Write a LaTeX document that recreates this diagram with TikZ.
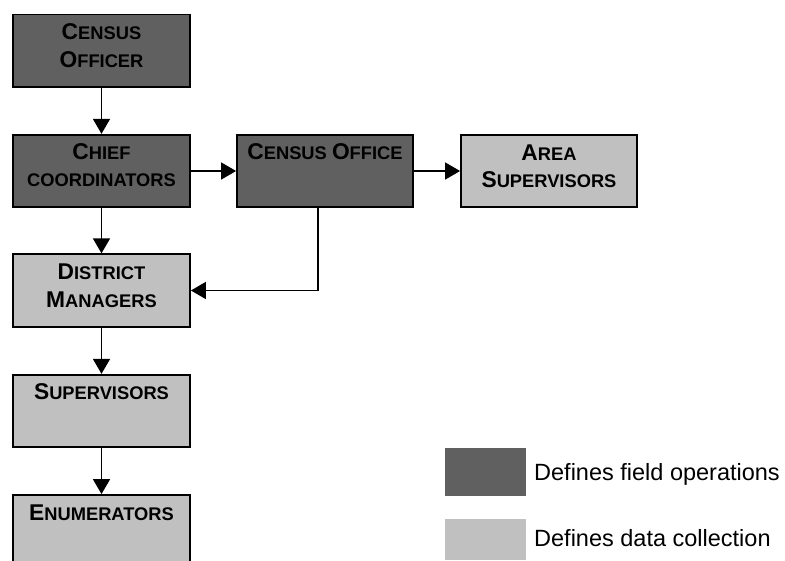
\documentclass[tikz,border=0pt]{standalone}
\usepackage{fontspec}
\setmainfont{Liberation Sans}
\usetikzlibrary{arrows.meta}
\definecolor{darkg}{HTML}{606060}
\definecolor{lightg}{HTML}{C0C0C0}
\newcommand\BigC[1]{{\fontsize{22.8}{27.5}\selectfont #1}}
\tikzset{
  boxbase/.style={draw=black, line width=1.8pt, minimum width=177pt, minimum height=72.5pt, inner sep=0pt},
  darkbox/.style={boxbase, fill=darkg},
  lightbox/.style={boxbase, fill=lightg},
  txt/.style={font=\fontsize{18.3}{27.5}\selectfont\bfseries, align=center, inner sep=0pt, anchor=base},
  arr/.style={line width=1.6pt, -{Triangle[length=15pt,width=17pt]}},
  legtxt/.style={font=\fontsize{23.5}{28}\selectfont, inner sep=0pt, anchor=base west},
}
\begin{document}
\begin{tikzpicture}[x=1pt,y=-1pt]
\useasboundingbox (0,0) rectangle (785,561);
\clip (0,0) rectangle (785,561);
% boxes
\node[darkbox] (off) at (101.5,50.75) {};
\node[darkbox] (chief) at (101.5,171) {};
\node[darkbox, minimum width=176pt] (cofc) at (325,171) {};
\node[lightbox, minimum width=176pt] (area) at (549,171) {};
\node[lightbox] (dm) at (101.5,290.5) {};
\node[lightbox] (sup) at (101.5,411) {};
\node[lightbox] (enum) at (101.5,531.25) {};
% texts (base anchor = last line)
\node[txt] (offt) at ([yshift=-53.8pt]off.north) {\BigC{C}ENSUS\\\BigC{O}FFICER};
\node[txt] (chieft) at ([yshift=-53pt]chief.north) {\BigC{C}HIEF\\COORDINATORS};
\node[txt] (cofct) at ([yshift=-26pt]cofc.north) {\BigC{C}ENSUS \BigC{O}FFICE};
\node[txt] (areat) at ([yshift=-54pt]area.north) {\BigC{A}REA\\\BigC{S}UPERVISORS};
\node[txt] (dmt) at ([yshift=-54pt]dm.north) {\BigC{D}ISTRICT\\\BigC{M}ANAGERS};
\node[txt] (supt) at ([yshift=-26pt]sup.north) {\BigC{S}UPERVISORS};
\node[txt] (enumt) at ([yshift=-26pt]enum.north) {\BigC{E}NUMERATORS};
% connectors
\draw[arr] (off) -- (chief);
\draw[arr] (chief) -- (cofc);
\draw[arr] (cofc) -- (area);
\draw[arr] (chief) -- (dm);
\draw[arr] (dm) -- (sup);
\draw[arr] (sup) -- (enum);
\draw[arr] ([xshift=-7pt]cofc.south) |- (dm.east);
% legend
\node[fill=darkg, minimum width=81pt, minimum height=48pt, inner sep=0pt] (lg1) at (485.5,472) {};
\node[fill=lightg, minimum width=81pt, minimum height=41pt, inner sep=0pt] (lg2) at (485.5,539.5) {};
\node[legtxt] (lt1) at (534,480) {Defines field operations};
\node[legtxt] (lt2) at (534,546) {Defines data collection};
\end{tikzpicture}
\end{document}
